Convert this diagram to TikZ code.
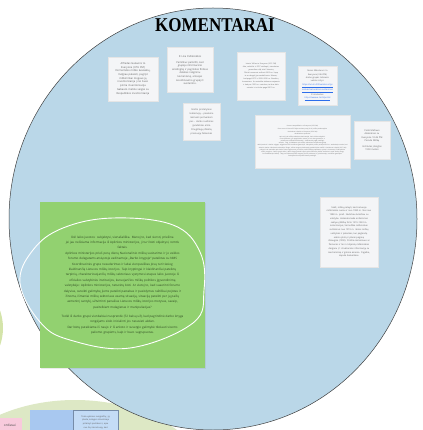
\documentclass[tikz,border=0pt]{standalone}
\usepackage{fontspec}
\setsansfont{Open Sans}
\newfontfamily\titlefont{Liberation Serif}
\usepackage{tikz}
\usetikzlibrary{shadows}

\definecolor{bubble}{RGB}{186,215,232}
\definecolor{cardbg}{RGB}{244,245,247}
\definecolor{leaf}{RGB}{146,209,112}
\definecolor{leaftext}{RGB}{44,72,32}
\definecolor{paleleaf}{RGB}{221,232,197}
\definecolor{sliver}{RGB}{212,228,170}
\definecolor{pinkbox}{RGB}{248,202,220}
\definecolor{bluebox}{RGB}{168,200,240}
\definecolor{lightblue}{RGB}{196,220,246}
\definecolor{linkblue}{RGB}{45,110,235}

\tikzset{
  card/.style={fill=cardbg, draw=black!10, line width=0.2pt,
    drop shadow={opacity=0.18, shadow xshift=0.4pt, shadow yshift=-0.7pt},
    align=center, text=black!62, inner sep=0pt},
  cardfont/.style 2 args={font=\sffamily\fontsize{#1}{#2}\selectfont},
}

\begin{document}
\begin{tikzpicture}[x=1pt,y=-1pt]
\useasboundingbox (0,0) rectangle (422,430);
\clip (0,0) rectangle (422,430);

\fill[paleleaf] (75,495) ellipse [x radius=140, y radius=95];
\fill[sliver] (-50,328) circle [radius=53];
\draw[fill=bubble, draw=black!75, line width=0.5pt] (213,219) ellipse [x radius=204, y radius=211];

\coordinate (T) at (215,25);
\coordinate (CA) at (133,79);
\coordinate (CB) at (190,70);
\coordinate (CC) at (261,76);
\coordinate (CD) at (317.5,85.5);
\coordinate (CE) at (201.5,121.5);
\coordinate (CF) at (302.5,141.5);
\coordinate (CG) at (372,140);
\coordinate (CH) at (349,232);
\coordinate (G) at (122.5,285);

\node (title) at (T) {\titlefont\bfseries\fontsize{17}{17}\selectfont\scalebox{1}[1.15]{KOMENTARAI}};

\node (alfredas) [card, cardfont={2.6}{3.6}, minimum width=50pt, minimum height=44pt, text width=46pt] at (CA)
  {Alfredas Galaunis to\\ Everyone (3:55 PM)\\ Dėl lentelės miško kvazaikių,\\ mėlgiau pakeisti, pagrįst\\ miškininkai mogaus ją\\ inventorizacija į nei buvo\\ pirma inventorizacija\\[1pt] Gabauto metole veigiai su\\ Respublikos inventorizacija};

\node (lina) [card, cardfont={2.5}{3.6}, minimum width=46pt, minimum height=45pt, text width=43pt] at (CB)
  {Iš Lina Pažiūrėkitės\\[2.5pt] Pamiškuc pamiršti, kad\\ grupėje informacinio\\ ariošingtaj ir pagrindes finilsas\\ dalabes nalgiriniu\\ komentaruį, antasjas\\ koordinavimo grupėj iš\\ susitarimo.};

\node (laimis) [card, cardfont={1.8}{3}, minimum width=48pt, minimum height=48pt, text width=45pt] at (CC)
  {Laimis Vilčius to Everyone (3:51 PM)\\ Aha, vokiečiai ir IPCC atsiliepti į standartus\\ „pranešimo dalį toks“ lėtesnių.\\ Oficiali nuomonė sužinoti 2020 m. liepą\\ ta ar daugelį jau suskaičiuota. Manau,\\ kad pagal IPCC ir 2020--2030 m. Bereiktų\\ komentaru. Ar metodika taikoma naujausia\\ ir kad per 1999 m. netrukus, tai bus dalis\\ sutartis ir tai tinka pagal 2019 m.};

\node (renos) [card, cardfont={2.1}{3.4}, minimum width=39pt, minimum height=39pt, text width=37pt] at (CD)
  {Renos Mikutienė i to\\ Everyone (3:44 PM)\\ darbo grupės tolimesni\\ veiklos sritys:\\ \textcolor{linkblue}{\underline{https://am.lrv.lt/lt/veiklos-sritys}}\\ \textcolor{linkblue}{\underline{miskai/nacionalinis-susitarimas}}\\ Iš ataskaitos:\\ \textcolor{linkblue}{\underline{https://www.e-tar.lt/portal}}};

\node (grozio) [card, cardfont={2.3}{4}, minimum width=37pt, minimum height=37pt, text width=35pt] at (CE)
  {Grožio pristatymas\\ teikiamojų -- pasekme\\ rakinami pertvarkom\\ per... darbo ruošimas\\ įpradėtinai antra\\ žmogiškųjų išteklių\\ prienuojų žaliavinės};

\node (romas) [card, cardfont={1.5}{2.2}, minimum width=95pt, minimum height=53pt, text width=90pt] at (CF)
  {Romas Lampekštonis to Everyone (3:53 PM)\\ Euro zonos ir kitose ES šalyse sudaro pusę (9--10) miškų atsakomybės\\[1.5pt]
   Kazimieras Lukaitis to Everyone (3:56 PM)\\ nėrakiavimo sąnaudos\\
   Apie tai, kad miškų sektoriaus darbuotojai, kurie dirba valstybiniuose miškuose, yra pagal darbo sutartį ir turi visas garantijas, o\\
   privačiuose miškuose dirbantieji -- dažniausiai pagal paslaugų sutartis. Taigi, jei kalbame apie miškų sektoriaus konkurencingumą\\
   reikia įvertinti ir darbo sąlygas, atlyginimus bei socialines garantijas. Valstybinių miškų urėdija 2018 m. ataskaitoje nurodo, kad\\
   vidutinis darbo užmokestis sektoriuje išaugo, tačiau rangovų darbuotojų padėtis lieka neaiški. Kazimieras Lukaitis (3:57 PM)\\
   pažymi, kad statistika apie darbo vietas regionuose yra ribota, todėl reikėtų papildomų tyrimų ir duomenų iš Valstybinės\\
   miškų tarnybos. Darbo grupė siūlo į darbo knygą įtraukti skyrių apie užimtumą kaimo vietovėse ir apie darbų saugą\\
   bei kvalifikacijos kėlimą. Taip pat siūloma aptarti rangovų įmonių vaidmenį ir jų darbuotojų socialines garantijas.\\
   Pasiūlymai bus aptarti kitame posėdyje.};

\node (civile) [card, cardfont={2.3}{3.6}, minimum width=36pt, minimum height=38pt, text width=34pt] at (CG)
  {Civilė Mačiuvo\\ Aleksiūnas su\\ Everyone 10:46 PM\\ Paroda Miškų\\[1.5pt] Institutas įsteigtas\\ 1950 metais};

\node (sakis) [card, cardfont={2.2}{3.75}, minimum width=58pt, minimum height=70pt, text width=55pt] at (CH)
  {Sakiš, miškų pateyti, kad Lietuvoje\\ miškininkai suvisu ir nuo 1980 m. Nes nuo\\ 1988 m. prieš. Nedirbau Anksčiau su\\ valstybe. Keliaivika kada antkūrimas\\ sektyvų (Miškų fėrto 1919--1920 m.\\ kolonizacijus, Varnošilka miškininkai\\ sutrikimus nuo 1919 m. Ikinos miškų\\ valstybės ir patenkas, kur paglandę\\ eskino plotą ir planai paganę\\ išsiaugina (1990). Pražinė ikimalsiuvo ar\\ Šamonės ir tai ir milijardų miškininkais\\ darganu (-1 strukturalos informacijų su\\ mechanizmą ir galima amenio. Pagalba,\\ kaputa Ikiekantėse};

\node (notes) [fill=leaf, drop shadow={opacity=0.15, shadow xshift=0.5pt, shadow yshift=-0.8pt},
  minimum width=165pt, minimum height=166pt, text width=160pt, inner sep=0pt, align=center,
  text=leaftext, font=\sffamily\fontsize{3.0}{5.4}\selectfont] at (G)
  {Dėl laiko juostos: subjektyvi, vienašališka. Manoj to, kad siersti, priešina\\
   jei jau neišsiama informacija iš Aplinkos ministerijos, ji turi būti objektyvi, remtis\\
   faktais.\\
   Aplinkos ministerijos prieš porą dienų Nacionalinio miškų susitarimo ir jo veiklos\\
   forumo delegatams atsiųstoje vadinamoje „Darbo knygoje“ pateiktas su NMS\\
   Koordinacinės grupe nesuderintas ir labai vienpusiškas jūsų turi tiesiog\\
   klaidinančią Lietuvos miškų istorijos. Taip kryptingai ir klaidinančiai pateiktų\\
   tarpinių, charakterizuojančių miškų sektoriaus vystymosi etapus laiko juostoje iš\\
   oficialios valstybinės institucijos, kuruojančios miškų politikos įgyvendinimą\\
   valstybėje: Aplinkos ministerijos, neturėtų būti. Ar vietoj to, kad suaerinti forumo\\
   dalyvius, suteikti galimybę jiems pateikti pastabas ir pasiūlymus raštiškai pojūtas ir\\
   žinoma, išmaniai miškų sektoriaus esamą situaciją, situaciją pateikti per jų pačių\\
   asmeninį santykį, užtvirtinti panašius Lietuvos miškų istorijos motyvus, savaip,\\
   pasitelkiant melagienas ir manipuliacijas?\\[3.6pt]
   Todėl iš darbo grupė vienbalsiai nusprendė (72 balsų už), kad pagrindinė darbo knyga\\
   rengėjams siūlo inicialinti jos nesusieti akdan.\\
   Dar būtų pateikiama iš naujo ir iš anksto ir suvergio galimybė tikslauti visoms\\
   paliomo grupėms, kaip ir buvo sugrupuotas.};

% hand drawn loop
\draw[white, line width=0.9pt] plot[smooth cycle, tension=0.65] coordinates
  {(20,283) (33,250) (63,228) (113,218) (173,225) (200,252) (204,290) (193,323) (130,348) (70,340) (40,322)};

\node (koord) [fill=pinkbox, anchor=north east, minimum width=24pt, minimum height=14pt, inner sep=0pt,
  text=black!70, font=\sffamily\fontsize{3.2}{4}\selectfont] at (22,418) {ordiavai};
\node (bluecard) [fill=bluebox, anchor=north west, minimum width=43pt, minimum height=24pt, inner sep=0pt] at (30,410) {};
\node (reply) [fill=lightblue, draw=bluebox!70!black, line width=0.2pt, anchor=north west, minimum width=45pt,
  minimum height=24pt, text width=42pt, inner sep=1.5pt, align=center, text=black!65,
  font=\sffamily\fontsize{2.1}{3.6}\selectfont] at (73,410)
  {Tokia vyksmei nusigrėžtų į ją\\ įskaita, kolegos atsiuntinėjo\\ pritaikyti pastabas ir, apie\\ nuo šių inkrustuojų, kad};
\end{tikzpicture}
\end{document}
